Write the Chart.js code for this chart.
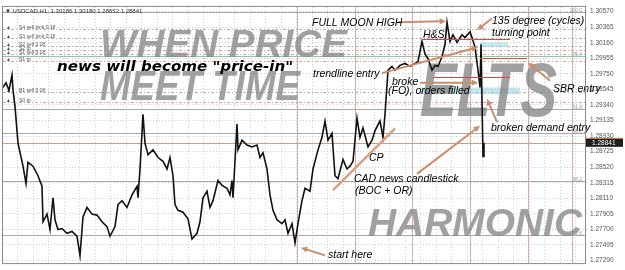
<!DOCTYPE html>
<html>
<head>
<meta charset="utf-8">
<script src="https://cdn.jsdelivr.net/npm/chart.js@4"></script>
<style>
html, body { margin: 0; padding: 0; background: #fff; }
#wrap { width: 625px; height: 270px; }
</style>
</head>
<body>
<div id="wrap"><canvas id="chart"></canvas></div>
<script>
// USDCAD H1 - bar number and close
var bars = [3, 6, 9, 12, 13, 15, 18, 23, 26, 28, 33, 38, 42, 43, 47, 50, 53, 55, 58, 62,
    67, 72, 77, 80, 83, 87, 92, 97, 102, 107, 110, 115, 118, 122, 127, 132, 137, 138, 140, 143,
    145, 148, 153, 158, 163, 167, 170, 173, 175, 178, 183, 188, 192, 197, 200, 203, 207, 210, 213, 218,
    222, 227, 230, 232, 233, 237, 238, 242, 247, 252, 257, 260, 263, 267, 270, 273, 277, 282, 285, 288,
    292, 295, 298, 302, 305, 310, 313, 318, 322, 325, 328, 332, 335, 338, 343, 347, 350, 353, 357, 360,
    363, 368, 372, 375, 380, 383, 385, 388, 392, 395, 400, 405, 410, 415, 418, 422, 425, 428, 432, 435,
    438, 442, 445, 447, 450, 453, 457, 462, 465, 470, 472, 475, 478, 480, 481, 483, 484];
var closes = [1.29571, 1.29634, 1.29533, 1.29735, 1.29545, 1.29318, 1.28837, 1.28533, 1.28306, 1.28584,
    1.28533, 1.28407, 1.28268, 1.27800, 1.27901, 1.27698, 1.28116, 1.27825, 1.27698, 1.27711,
    1.27648, 1.27673, 1.27609, 1.27357, 1.27863, 1.27989, 1.27901, 1.27888, 1.27800, 1.27736,
    1.27609, 1.27736, 1.28027, 1.28078, 1.27989, 1.28154, 1.28268, 1.28116, 1.28496, 1.29216,
    1.28837, 1.28685, 1.28748, 1.28647, 1.28597, 1.28496, 1.28647, 1.28407, 1.28027, 1.27951,
    1.27926, 1.27838, 1.27572, 1.27648, 1.27800, 1.28116, 1.28204, 1.27989, 1.28078, 1.28344,
    1.28280, 1.28242, 1.28154, 1.28344, 1.28116, 1.29090, 1.28748, 1.28875, 1.28812, 1.28786,
    1.28812, 1.28647, 1.28710, 1.28496, 1.28154, 1.27951, 1.27825, 1.27774, 1.27825, 1.27648,
    1.27774, 1.27521, 1.27774, 1.28078, 1.28242, 1.28204, 1.28496, 1.28748, 1.28913, 1.29128,
    1.28875, 1.28964, 1.28407, 1.28369, 1.28622, 1.28496, 1.28533, 1.28597, 1.29166, 1.28913,
    1.29039, 1.28786, 1.28875, 1.29001, 1.29128, 1.28913, 1.29216, 1.29798, 1.29849, 1.29798,
    1.29862, 1.29887, 1.29849, 1.29887, 1.29912, 1.30178, 1.30013, 1.29950, 1.29798, 1.29862,
    1.29849, 1.29975, 1.30140, 1.30431, 1.30178, 1.30266, 1.30165, 1.30266, 1.30228, 1.30304,
    1.30228, 1.30102, 1.29798, 1.29571, 1.30140, 1.28660, 1.28841];

var priceTicks = [1.30570, 1.30365, 1.30160, 1.29955, 1.29750, 1.29545, 1.29340, 1.29135, 1.28930,
    1.28725, 1.28520, 1.28315, 1.28110, 1.27905, 1.27700, 1.27495, 1.27290];
var lastPrice = 1.28841;
var chartTitle = '\u25BC USDCAD,H1  1.30186 1.30180 1.28652 1.28841';

// vertical period lines (bar numbers)
var timeLines = [297, 355, 412, 470, 528, 572];

// pending orders drawn at the top-left
var orderLabels = ['S4 sell limit 0.18', 'S3 sell limit 0.18', 'S2 sell 0.18', 'S2 tp', 'S1 sell 0.18', 'S1 tp', 'B1 sell 0.18', 'S0 tp'];
var orderPrices = [1.30342, 1.30228, 1.30115, 1.30064, 1.30013, 1.29925, 1.29507, 1.29381];

// fibo levels
var fiboLabels = ['100.0', '76.4', '61.8', '50.0', '38.2', '23.6'];
var fiboPrices = [1.30570, 1.29988, 1.29288, 1.28964, 1.28331, 1.27622];

// notes: text, bar, price of baseline
var noteTexts = ['FULL MOON HIGH', 'H&S', '135 degree (cycles)', 'turning point', 'trendline entry', 'broke',
    '(FO), orders filled', 'SBR entry', 'broken demand entry', 'CP', 'CAD news candlestick', '(BOC + OR)', 'start here'];
var noteBars = [312, 423, 492, 492, 313, 392, 388, 553, 491, 369, 354, 355, 328];
var notePrices = [1.30380, 1.30228, 1.30406, 1.30254, 1.29710, 1.29609, 1.29482, 1.29507, 1.29001, 1.28597, 1.28318, 1.28166, 1.27319];

// arrows [bar1, price1, bar2, price2], head at the second point
var arrows = [
    [398, 1.30431, 446, 1.30444],
    [492, 1.30481, 477, 1.30330],
    [382, 1.29760, 478, 1.30102],
    [420, 1.29634, 478, 1.29634],
    [550, 1.29659, 528, 1.29900],
    [497, 1.29115, 487, 1.29419],
    [417, 1.28432, 480, 1.29065],
    [325, 1.27357, 301, 1.27458]
];
var cpLine = [333, 1.28217, 395, 1.29027];

var redLines = [[422, 510, 1.30216], [480, 527, 1.29963], [433, 510, 1.29710]];
var zones = [[480, 508, 1.30165, 1.30102], [420, 520, 1.29571, 1.29482]];

// big grey texts: text, bar, baseline price, width in bars, cap height px
var marks = [
    ['WHEN PRICE', 100, 1.29975, 247, 28],
    ['MEET TIME', 100, 1.29406, 200, 31],
    ['ELTS', 420, 1.29191, 137, 55],
    ['HARMONIC', 368, 1.27610, 214, 28]
];
var newsText = 'news will become "price-in"';

var AR = 'Liberation Sans, Arial, sans-serif';

function fitText(ctx, text, x, y, w, capH, style, family, color) {
    var size = capH / 0.72;
    ctx.font = style + ' ' + size + 'px ' + family;
    var mw = ctx.measureText(text).width;
    ctx.save();
    ctx.translate(x, y);
    ctx.scale(w / mw, 1);
    ctx.fillStyle = color;
    ctx.textBaseline = 'alphabetic';
    ctx.fillText(text, 0, 0);
    ctx.restore();
}

function arrow(ctx, x1, y1, x2, y2) {
    var a = Math.atan2(y2 - y1, x2 - x1);
    ctx.beginPath();
    ctx.moveTo(x1, y1);
    ctx.lineTo(x2 - 4 * Math.cos(a), y2 - 4 * Math.sin(a));
    ctx.stroke();
    ctx.beginPath();
    ctx.moveTo(x2, y2);
    ctx.lineTo(x2 - 7 * Math.cos(a - 0.45), y2 - 7 * Math.sin(a - 0.45));
    ctx.lineTo(x2 - 7 * Math.cos(a + 0.45), y2 - 7 * Math.sin(a + 0.45));
    ctx.closePath();
    ctx.fill();
}

var decor = {
    id: 'decor',
    beforeDatasetsDraw: function (chart) {
        var ctx = chart.ctx, xs = chart.scales.x, ys = chart.scales.y, ca = chart.chartArea;
        ctx.save();
        ctx.beginPath();
        ctx.rect(ca.left, ca.top, ca.right - ca.left, ca.bottom - ca.top);
        ctx.clip();

        // period lines
        ctx.strokeStyle = '#d8aea4';
        ctx.lineWidth = 1;
        timeLines.forEach(function (b) {
            var x = Math.round(xs.getPixelForValue(b)) + 0.5;
            ctx.beginPath(); ctx.moveTo(x, ca.top); ctx.lineTo(x, ca.bottom); ctx.stroke();
        });

        // fibo
        fiboPrices.forEach(function (p, i) {
            var y = Math.round(ys.getPixelForValue(p)) + 0.5;
            ctx.strokeStyle = i === 1 ? '#9cc09c' : '#a8a8a8';
            ctx.beginPath(); ctx.moveTo(ca.left, y); ctx.lineTo(ca.right, y); ctx.stroke();
            ctx.fillStyle = '#999';
            ctx.font = '5px ' + AR;
            ctx.textAlign = 'right';
            ctx.fillText(fiboLabels[i], ca.right - 3, y - 1);
        });

        // last price line
        var yl = Math.round(ys.getPixelForValue(lastPrice)) + 0.5;
        ctx.strokeStyle = '#c9a08a';
        ctx.beginPath(); ctx.moveTo(ca.left, yl); ctx.lineTo(ca.right, yl); ctx.stroke();

        // orders
        ctx.textAlign = 'left';
        orderPrices.forEach(function (p, i) {
            var y = Math.round(ys.getPixelForValue(p)) + 0.5;
            var tp = orderLabels[i].indexOf('tp') > 0;
            ctx.strokeStyle = tp ? '#e0a0a0' : '#b0b0b0';
            ctx.setLineDash([3, 2, 1, 2]);
            ctx.beginPath(); ctx.moveTo(ca.left, y); ctx.lineTo(ca.right, y); ctx.stroke();
            ctx.setLineDash([]);
            ctx.fillStyle = '#555';
            ctx.font = '5px ' + AR;
            ctx.fillText('\u25B2', ca.left + 3, y - 1);
            ctx.fillText(orderLabels[i], ca.left + 16, y - 1);
        });

        // zones
        ctx.fillStyle = 'rgba(150, 212, 222, 0.55)';
        zones.forEach(function (z) {
            var x1 = xs.getPixelForValue(z[0]), x2 = xs.getPixelForValue(z[1]);
            var y1 = ys.getPixelForValue(z[2]), y2 = ys.getPixelForValue(z[3]);
            ctx.fillRect(x1, y1, x2 - x1, y2 - y1);
        });

        // watermarks
        marks.forEach(function (m) {
            var x = xs.getPixelForValue(m[1]);
            var w = xs.getPixelForValue(m[1] + m[3]) - x;
            fitText(ctx, m[0], x, ys.getPixelForValue(m[2]), w, m[4], 'italic bold', AR, 'rgba(135, 135, 135, 0.78)');
        });
        fitText(ctx, newsText, xs.getPixelForValue(57), ys.getPixelForValue(1.29786), xs.getPixelForValue(293) - xs.getPixelForValue(57), 10, 'italic bold', 'DejaVu Sans, sans-serif', '#000');

        ctx.restore();
    },
    afterDatasetsDraw: function (chart) {
        var ctx = chart.ctx, xs = chart.scales.x, ys = chart.scales.y, ca = chart.chartArea;
        ctx.save();

        // red lines
        ctx.strokeStyle = '#d44848';
        ctx.lineWidth = 1;
        redLines.forEach(function (r) {
            var y = Math.round(ys.getPixelForValue(r[2])) + 0.5;
            ctx.beginPath(); ctx.moveTo(xs.getPixelForValue(r[0]), y); ctx.lineTo(xs.getPixelForValue(r[1]), y); ctx.stroke();
        });

        // cp trendline
        ctx.strokeStyle = '#d8a080';
        ctx.lineWidth = 2.5;
        ctx.beginPath();
        ctx.moveTo(xs.getPixelForValue(cpLine[0]), ys.getPixelForValue(cpLine[1]));
        ctx.lineTo(xs.getPixelForValue(cpLine[2]), ys.getPixelForValue(cpLine[3]));
        ctx.stroke();

        // arrows
        ctx.strokeStyle = '#c98e6e';
        ctx.fillStyle = '#c98e6e';
        ctx.lineWidth = 2;
        arrows.forEach(function (a) {
            arrow(ctx, xs.getPixelForValue(a[0]), ys.getPixelForValue(a[1]), xs.getPixelForValue(a[2]), ys.getPixelForValue(a[3]));
        });

        // notes
        ctx.fillStyle = '#000';
        ctx.textAlign = 'left';
        ctx.textBaseline = 'alphabetic';
        ctx.font = 'italic 10.5px ' + AR;
        noteTexts.forEach(function (t, i) {
            ctx.fillText(t, xs.getPixelForValue(noteBars[i]), ys.getPixelForValue(notePrices[i]));
        });

        // title
        ctx.font = '6px ' + AR;
        ctx.fillStyle = '#333';
        ctx.fillText(chartTitle, ca.left + 2, ca.top + 6);

        // frame
        ctx.strokeStyle = '#8a8a8a';
        ctx.lineWidth = 1;
        ctx.strokeRect(ca.left - 0.5, ca.top - 0.5, ca.right - ca.left + 1, ca.bottom - ca.top + 1);

        // price box on the axis
        var yl = ys.getPixelForValue(lastPrice);
        ctx.fillStyle = '#e07828';
        ctx.fillRect(ca.right + 1, yl - 5, 37, 1);
        ctx.fillStyle = '#1e1e1e';
        ctx.fillRect(ca.right + 1, yl - 4, 37, 8);
        ctx.fillStyle = '#fff';
        ctx.font = '6.5px ' + AR;
        ctx.textBaseline = 'middle';
        ctx.fillText(lastPrice.toFixed(5), ca.right + 7, yl);
        ctx.restore();
    }
};

new Chart(document.getElementById('chart'), {
    type: 'line',
    data: {
        datasets: [{
            data: bars.map(function (b, i) { return { x: b, y: closes[i] }; }),
            borderColor: '#111',
            borderWidth: 1.6,
            pointRadius: 0,
            tension: 0
        }]
    },
    options: {
        responsive: true,
        maintainAspectRatio: false,
        animation: false,
        layout: { padding: { left: 3, top: 1, bottom: 2, right: 0 } },
        plugins: { legend: { display: false }, tooltip: { enabled: false } },
        scales: {
            x: {
                type: 'linear', min: 3, max: 585,
                ticks: { display: false },
                afterBuildTicks: function (s) {
                    var t = [];
                    for (var v = 17.5; v < 585; v += 15.5) t.push({ value: v });
                    s.ticks = t;
                },
                grid: { color: '#cfcfcf', drawTicks: false },
                border: { display: false, dash: [1, 2] }
            },
            y: {
                position: 'right',
                min: 1.27255, max: 1.30633,
                afterBuildTicks: function (s) {
                    s.ticks = priceTicks.map(function (v) { return { value: v }; });
                },
                afterFit: function (s) { s.width = 40; },
                ticks: {
                    color: '#555', font: { size: 6.5, family: AR }, padding: 3,
                    callback: function (v) { return v.toFixed(5); }
                },
                grid: { color: '#cfcfcf', tickLength: 2 },
                border: { display: false, dash: [1, 2] }
            }
        }
    },
    plugins: [decor]
});
</script>
</body>
</html>
